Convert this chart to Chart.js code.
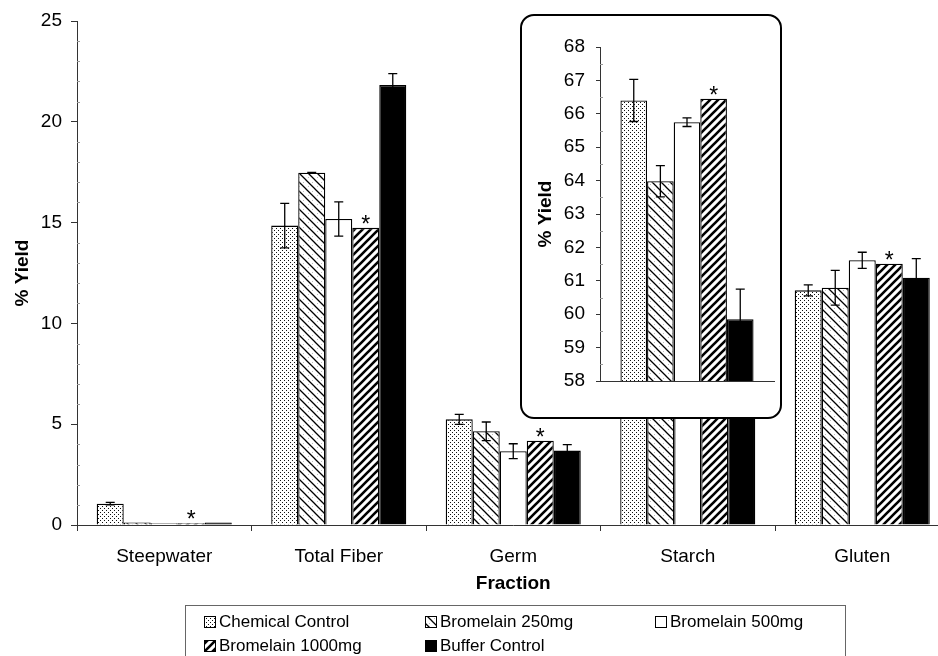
<!DOCTYPE html>
<html><head><meta charset="utf-8">
<script src="https://cdn.jsdelivr.net/npm/chart.js@4"></script>
<style>
html,body{margin:0;padding:0;background:#fff;}
#wrap{position:relative;width:938px;height:656px;overflow:hidden;background:#fff;}
#main{position:absolute;left:0;top:0;}
#insetBox{position:absolute;left:520px;top:14px;width:258px;height:401px;border:2px solid #000;border-radius:14px;background:#fff;overflow:hidden;}
#inset{position:absolute;left:0;top:0;}
</style></head>
<body>
<div id="wrap">
  <canvas id="main" width="960" height="656"></canvas>
  <div id="insetBox"><canvas id="inset" width="258" height="401"></canvas></div>
</div>
<script>
// ---------- data ----------
const categories = ['Steepwater', 'Total Fiber', 'Germ', 'Starch', 'Gluten'];
const seriesNames = ['Chemical Control', 'Bromelain 250mg', 'Bromelain 500mg', 'Bromelain 1000mg', 'Buffer Control'];
const chemicalControl    = [1.06, 14.85, 5.24, 66.40, 11.64];
const chemicalControlErr = [0.06, 1.10, 0.25, 0.63, 0.27];
const bromelain250       = [0.12, 17.47, 4.65, 63.98, 11.77];
const bromelain250Err    = [0, 0.02, 0.46, 0.47, 0.86];
const bromelain500       = [0.09, 15.18, 3.66, 65.75, 13.13];
const bromelain500Err    = [0, 0.85, 0.37, 0.13, 0.40];
const bromelain1000      = [0.09, 14.74, 4.18, 66.45, 12.96];
const bromelain1000Err   = [0, 0, 0, 0, 0];
const bufferControl      = [0.13, 21.82, 3.69, 59.85, 12.27];
const bufferControlErr   = [0, 0.57, 0.30, 0.90, 0.94];
const significantSeries  = 'Bromelain 1000mg';   // marked with *
const mainYTicks  = [0, 5, 10, 15, 20, 25];
const insetYTicks = [58, 59, 60, 61, 62, 63, 64, 65, 66, 67, 68];
const insetCategory = 'Starch';
const xTitle = 'Fraction';
const yTitle = '% Yield';

// ---------- patterns ----------
function makePattern(kind) {
  const c = document.createElement('canvas');
  const g = c.getContext('2d');
  if (kind === 'dots') {
    c.width = 4; c.height = 4;
    g.fillStyle = '#fff'; g.fillRect(0, 0, 4, 4);
    g.fillStyle = '#111';
    g.fillRect(0, 0, 1, 1); g.fillRect(2, 2, 1, 1);
  } else if (kind === 'back') {
    const s = 9; c.width = s; c.height = s;
    g.fillStyle = '#fff'; g.fillRect(0, 0, s, s);
    g.fillStyle = '#bbb'; g.fillRect(6, 2, 1, 1); g.fillRect(2, 6, 1, 1);
    g.strokeStyle = '#000'; g.lineWidth = 1.3;
    g.beginPath();
    g.moveTo(-1, -1); g.lineTo(s + 1, s + 1);
    g.moveTo(-1, s - 1); g.lineTo(1, s + 1);
    g.moveTo(s - 1, -1); g.lineTo(s + 1, 1);
    g.stroke();
  } else if (kind === 'fwd') {
    const s = 8; c.width = s; c.height = s;
    g.fillStyle = '#fff'; g.fillRect(0, 0, s, s);
    g.strokeStyle = '#000'; g.lineWidth = 2.6;
    g.beginPath();
    g.moveTo(-1, s + 1); g.lineTo(s + 1, -1);
    g.moveTo(-1, 1); g.lineTo(1, -1);
    g.moveTo(s - 1, s + 1); g.lineTo(s + 1, s - 1);
    g.stroke();
  }
  return g.createPattern(c, 'repeat');
}
const fills = [makePattern('dots'), makePattern('back'), '#ffffff', makePattern('fwd'), '#000000'];
const values = [chemicalControl, bromelain250, bromelain500, bromelain1000, bufferControl];
const errs = [chemicalControlErr, bromelain250Err, bromelain500Err, bromelain1000Err, bufferControlErr];

Chart.defaults.font.family = '"Liberation Sans", Arial, sans-serif';
Chart.defaults.color = '#000';

function buildDatasets(idxList) {
  return seriesNames.map((name, s) => ({
    label: name,
    data: idxList.map(i => values[s][i]),
    errors: idxList.map(i => errs[s][i]),
    star: name === significantSeries,
    backgroundColor: fills[s],
    borderColor: '#000',
    borderWidth: 1.3,
    borderSkipped: 'bottom'
  }));
}

// error bars + asterisks
const errPlugin = {
  id: 'errbars',
  afterDatasetsDraw(chart) {
    const ctx = chart.ctx, ys = chart.scales.y, ca = chart.chartArea;
    ctx.save();
    ctx.beginPath();
    ctx.rect(ca.left, ca.top - 25, ca.right - ca.left, ca.bottom - ca.top + 25);
    ctx.clip();
    chart.data.datasets.forEach((ds, di) => {
      const meta = chart.getDatasetMeta(di);
      meta.data.forEach((bar, i) => {
        const v = ds.data[i], e = ds.errors[i];
        if (v > ys.max) return;
        if (e > 0) {
          const yt = ys.getPixelForValue(v + e), yb = ys.getPixelForValue(v - e);
          ctx.strokeStyle = '#000'; ctx.lineWidth = 1.3;
          ctx.beginPath();
          ctx.moveTo(bar.x, yt); ctx.lineTo(bar.x, yb);
          ctx.moveTo(bar.x - 4.5, yt); ctx.lineTo(bar.x + 4.5, yt);
          ctx.moveTo(bar.x - 4.5, yb); ctx.lineTo(bar.x + 4.5, yb);
          ctx.stroke();
        }
        if (ds.star) {
          ctx.fillStyle = '#000';
          ctx.font = '23px "Liberation Sans", Arial, sans-serif';
          ctx.textAlign = 'center'; ctx.textBaseline = 'alphabetic';
          ctx.fillText('*', bar.x, bar.y + 4);
        }
      });
    });
    ctx.restore();
  }
};

// minor ticks
function minorPlugin(step, majorEvery) {
  return {
    id: 'minor',
    afterDraw(chart) {
      const ctx = chart.ctx, ys = chart.scales.y, ca = chart.chartArea;
      ctx.save(); ctx.strokeStyle = '#999'; ctx.lineWidth = 1;
      ctx.beginPath();
      for (let v = ys.min; v <= ys.max + 1e-9; v += step) {
        const k = Math.round((v - ys.min) / step);
        if (k % majorEvery === 0) continue;
        const y = Math.round(ys.getPixelForValue(v)) + 0.5;
        ctx.moveTo(ca.left, y); ctx.lineTo(ca.left + 3, y);
      }
      ctx.stroke(); ctx.restore();
    }
  };
}

// legend
const legendPlugin = {
  id: 'boxLegend',
  afterDraw(chart) {
    const ctx = chart.ctx;
    ctx.save();
    ctx.strokeStyle = '#666'; ctx.lineWidth = 1;
    ctx.strokeRect(185.5, 605.5, 660, 70);
    const pos = [[204, 621], [425, 621], [655, 621], [204, 645], [425, 645]];
    ctx.font = '17px "Liberation Sans", Arial, sans-serif';
    ctx.textBaseline = 'middle'; ctx.textAlign = 'left';
    seriesNames.forEach((name, s) => {
      const [x, y] = pos[s];
      ctx.fillStyle = fills[s];
      ctx.fillRect(x, y - 5, 12, 12);
      ctx.strokeStyle = '#000'; ctx.lineWidth = 1;
      ctx.strokeRect(x + 0.5, y - 4.5, 11, 11);
      ctx.fillStyle = '#000';
      ctx.fillText(name, x + 15, y + 1);
    });
    ctx.restore();
  }
};

const allIdx = categories.map((_, i) => i);
new Chart(document.getElementById('main'), {
  type: 'bar',
  data: { labels: categories, datasets: buildDatasets(allIdx) },
  options: {
    responsive: false, animation: false, devicePixelRatio: 1,
    layout: { padding: { left: 0, right: 10.5, top: 21, bottom: 0 } },
    datasets: { bar: { categoryPercentage: 0.774, barPercentage: 1.0 } },
    plugins: { legend: { display: false }, tooltip: { enabled: false } },
    scales: {
      x: {
        grid: { drawOnChartArea: false, tickLength: 6, color: '#333', offset: true },
        border: { color: '#333', width: 1 },
        ticks: { font: { size: 19 }, padding: 14, color: '#000' },
        title: { display: true, text: xTitle, font: { size: 19, weight: 'bold' }, padding: { top: 0, bottom: 61 } },
        afterFit(s) { s.height = 131; }
      },
      y: {
        min: mainYTicks[0], max: mainYTicks[mainYTicks.length - 1],
        afterBuildTicks(s) { s.ticks = mainYTicks.map(v => ({ value: v })); },
        grid: { drawOnChartArea: false, tickLength: 6, color: '#333' },
        border: { color: '#333', width: 1 },
        ticks: { font: { size: 19 }, padding: 9, color: '#000' },
        title: { display: true, text: yTitle, font: { size: 19, weight: 'bold' }, padding: { top: 11, bottom: 0 } },
        afterFit(s) { s.width = 77; }
      }
    }
  },
  plugins: [errPlugin, minorPlugin(1, 5), legendPlugin]
});

const insetIdx = [categories.indexOf(insetCategory)];
new Chart(document.getElementById('inset'), {
  type: 'bar',
  data: { labels: [insetCategory], datasets: buildDatasets(insetIdx) },
  options: {
    responsive: false, animation: false, devicePixelRatio: 1,
    layout: { padding: { left: 0, right: 6, top: 31, bottom: 0 } },
    datasets: { bar: { categoryPercentage: 0.765, barPercentage: 1.0 } },
    plugins: { legend: { display: false }, tooltip: { enabled: false } },
    scales: {
      x: {
        grid: { display: false },
        border: { color: '#333', width: 1 },
        ticks: { display: false },
        afterFit(s) { s.height = 36; }
      },
      y: {
        min: insetYTicks[0], max: insetYTicks[insetYTicks.length - 1],
        afterBuildTicks(s) { s.ticks = insetYTicks.map(v => ({ value: v })); },
        grid: { drawOnChartArea: false, tickLength: 4, color: '#333' },
        border: { color: '#333', width: 1 },
        ticks: { font: { size: 19 }, padding: 11, color: '#000' },
        title: { display: true, text: yTitle, font: { size: 19, weight: 'bold' }, padding: { top: 12, bottom: 0 } },
        afterFit(s) { s.width = 78; }
      }
    }
  },
  plugins: [errPlugin, minorPlugin(0.5, 2)]
});
</script>
</body></html>
